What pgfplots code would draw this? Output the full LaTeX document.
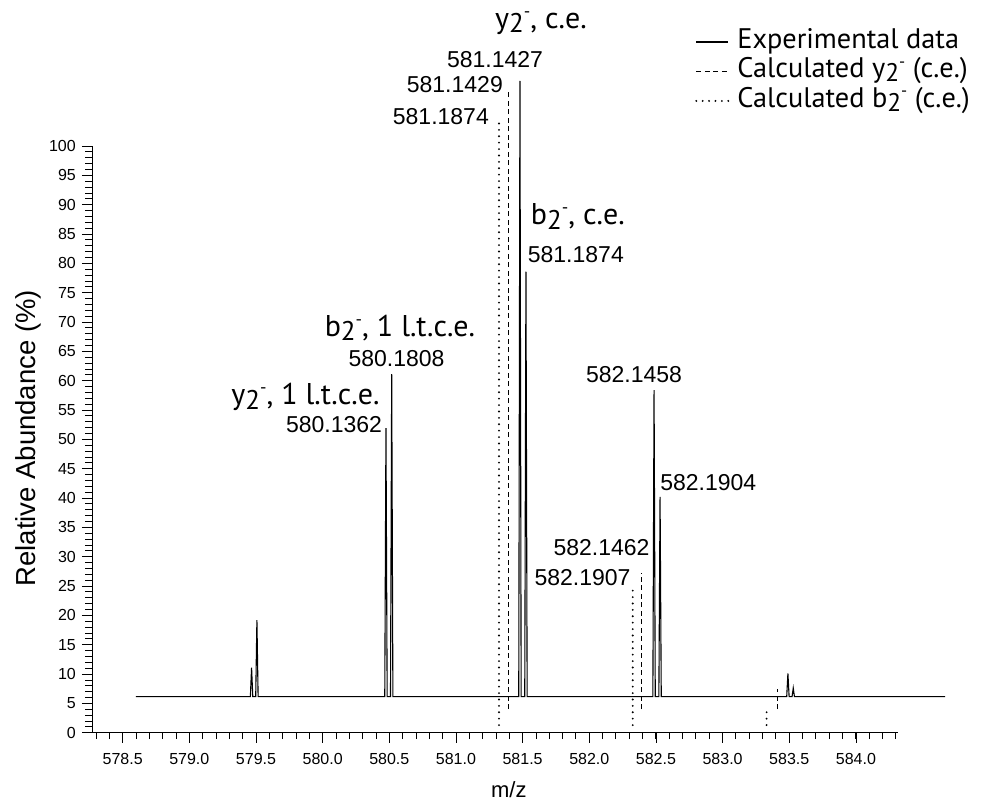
\documentclass[border=0pt]{standalone}
\usepackage{fontspec}
\setmainfont{Liberation Sans}
\newfontfamily\myr{PT Sans}
\usepackage{pgfplots}
\pgfplotsset{compat=1.18}

% ion name: letter, lowered 2, small minus
\newcommand{\ion}[1]{#1\raisebox{-0.3ex}{\scalebox{0.9}{2}}\raisebox{0.75ex}{\scalebox{0.6}{-}}}
\newcommand{\lbl}{\fontsize{23}{23}\selectfont}
\newcommand{\bigf}{\myr\fontsize{30}{30}\selectfont}
\newcommand{\legf}{\myr\fontsize{28.3}{28.3}\selectfont}

\tikzset{
  calcy/.style={black, line width=1.1pt, dash pattern=on 5pt off 3.5pt},
  calcb/.style={black, line width=2.1pt, line cap=round, dash pattern=on 0pt off 6.4pt},
}

\begin{document}
\begin{tikzpicture}[x=1pt,y=1pt]
\useasboundingbox (-92,-74.3) rectangle (890,732.7);
\begin{axis}[
    scale only axis, width=806.3pt, height=586.7pt,
    xmin=578.27, xmax=584.318, ymin=0, ymax=100,
    axis lines=left, axis line style={-, line width=0.9pt},
    clip=false,
    xtick={578.5,579.0,579.5,580.0,580.5,581.0,581.5,582.0,582.5,583.0,583.5,584.0},
    minor xtick={578.3,578.4,...,584.35},
    ytick={0,5,...,100},
    minor ytick={0,1,...,100},
    tick align=outside,
    major tick length=10pt, minor tick length=6.5pt,
    every tick/.style={line width=0.8pt, black},
    /pgf/number format/assume math mode=true,
    xticklabel style={/pgf/number format/.cd, fixed, fixed zerofill, precision=1,
        /tikz/.cd, font=\fontsize{16}{16}\selectfont, inner sep=0pt, yshift=-10pt},
    yticklabel style={font=\fontsize{16}{16}\selectfont, inner sep=0pt, xshift=-6pt},
    xlabel={m/z},
    xlabel style={font=\fontsize{22}{22}\selectfont, at={(axis description cs:0.517,-0.0977)}, anchor=center},
    ylabel={Relative Abundance (\%)},
    ylabel style={font=\fontsize{27.5}{27.5}\selectfont, at={(axis description cs:-0.0794,0.502)}, anchor=center},
    legend style={at={(axis description cs:0.7479,1.2028)}, anchor=north west,
        draw=none, fill=none, font=\legf, inner sep=0pt, column sep=8pt, row sep=0pt,
        nodes={inner sep=0pt, text height=21pt, text depth=8.5pt}},
    legend cell align=left,
    legend image code/.code={\draw[#1] (0pt,0pt) -- (32pt,0pt);},
]
% experimental trace
\addplot[black, line width=1.1pt] coordinates {
(578.60,6.15) (579.458,6.15) (579.467,11.1) (579.476,6.15) (579.498,6.15) (579.507,19.2) (579.516,6.15)
(580.466,6.15) (580.475,51.9) (580.484,6.15) (580.509,6.15) (580.518,61.1) (580.527,6.15)
(581.471,6.15) (581.480,111.1) (581.489,6.15) (581.516,6.15) (581.525,78.6) (581.534,6.15)
(582.477,6.15) (582.486,58.4) (582.495,6.15) (582.522,6.15) (582.531,40.2) (582.540,6.15)
(583.481,6.15) (583.490,10.1) (583.499,6.15) (583.521,6.15) (583.530,7.6) (583.539,6.15)
(584.67,6.15)};
\addlegendentry{Experimental data}
% calculated y2- (c.e.)
\addplot[calcy] coordinates {(581.393,4.0) (581.393,109.5)};
\addlegendentry{Calculated \ion{y} (c.e.)}
% calculated b2- (c.e.)
\addplot[calcb] coordinates {(581.323,1.3) (581.323,104.9)};
\addlegendentry{Calculated \ion{b} (c.e.)}
\addplot[forget plot, calcy] coordinates {(582.393,4.0) (582.393,27.2)};
\addplot[forget plot, calcy] coordinates {(583.41,4.0) (583.41,7.5)};
\addplot[forget plot, calcb] coordinates {(582.326,1.3) (582.326,24.3)};
\addplot[forget plot, calcb] coordinates {(583.33,1.3) (583.33,4.3)};

% annotations
\node[font=\bigf] at (axis cs:581.638,120.97) {\ion{y}, c.e.};
\node[font=\lbl] at (axis cs:581.293,114.66) {581.1427};
\node[font=\lbl, anchor=east, inner sep=0pt] at (axis cs:581.353,110.39) {581.1429};
\node[font=\lbl, anchor=east, inner sep=0pt] at (axis cs:581.248,105.0) {581.1874};
\node[font=\bigf, anchor=west, inner sep=0pt] at (axis cs:581.561,87.95) {\ion{b}, c.e.};
\node[font=\lbl, anchor=west, inner sep=0pt] at (axis cs:581.538,81.42) {581.1874};
\node[font=\bigf] at (axis cs:580.580,68.98) {\ion{b}, 1 l.t.c.e.};
\node[font=\lbl] at (axis cs:580.554,63.7) {580.1808};
\node[font=\bigf] at (axis cs:579.871,57.2) {\ion{y}, 1 l.t.c.e.};
\node[font=\lbl] at (axis cs:580.085,52.45) {580.1362};
\node[font=\lbl] at (axis cs:582.336,60.97) {582.1458};
\node[font=\lbl, anchor=west, inner sep=0pt] at (axis cs:582.531,42.56) {582.1904};
\node[font=\lbl] at (axis cs:582.092,31.48) {582.1462};
\node[font=\lbl] at (axis cs:581.949,26.37) {582.1907};
\end{axis}
\end{tikzpicture}
\end{document}
